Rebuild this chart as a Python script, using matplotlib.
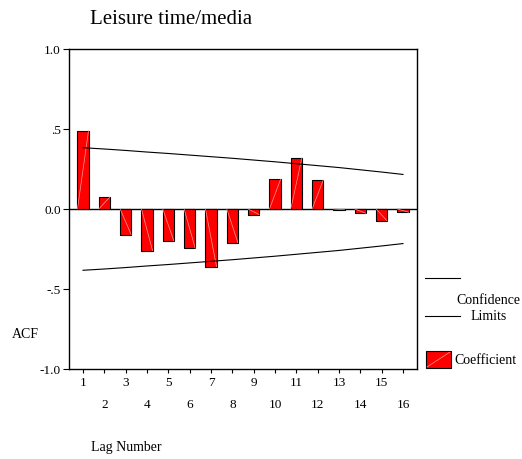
import numpy as np
import matplotlib
matplotlib.use("Agg")
import matplotlib.pyplot as plt
from matplotlib.lines import Line2D
from matplotlib.patches import Rectangle

# === Data ===
lags = list(range(1, 17))
acf = [0.49, 0.075, -0.16, -0.26, -0.20, -0.245, -0.36, -0.21,
       -0.035, 0.185, 0.32, 0.18, -0.005, -0.027, -0.075, -0.02]
upper_limit = [0.383, 0.375, 0.366, 0.356, 0.347, 0.337, 0.327, 0.317,
               0.306, 0.295, 0.283, 0.271, 0.259, 0.245, 0.231, 0.216]
lower_limit = [-v for v in upper_limit]
ytick_vals = [-1.0, -0.5, 0.0, 0.5, 1.0]
ytick_labels = ["-1.0", "-.5", "0.0", ".5", "1.0"]

plt.rcParams['font.family'] = ['Liberation Serif', 'DejaVu Serif']

fig = plt.figure(figsize=(5.22, 4.59), dpi=100)
W, H = 522.0, 459.0
ax = fig.add_axes([69 / W, 1 - 369 / H, 348 / W, 320 / H])

bw = 0.52
bars = ax.bar(lags, acf, width=bw, color='#ff0000', edgecolor='black', linewidth=0.8, zorder=3)
# faint diagonal streak inside each bar, like the SPSS fill
for b in bars:
    x0 = b.get_x()
    y0 = b.get_y()
    ax.plot([x0, x0 + b.get_width()], [y0, y0 + b.get_height()],
            color='#ff9a9a', lw=0.5, zorder=3.5)

ax.plot(lags, upper_limit, color='black', lw=0.8, zorder=4)
ax.plot(lags, lower_limit, color='black', lw=0.8, zorder=4)
ax.axhline(0, color='black', lw=1.0, zorder=2)

ax.set_xlim(0.344, 16.656)
ax.set_ylim(-1.0, 1.0)

odd = [l for l in lags if l % 2 == 1]
even = [l for l in lags if l % 2 == 0]
ax.set_xticks(odd)
ax.set_xticklabels([str(l) for l in odd])
ax.set_xticks(even, minor=True)
ax.set_xticklabels([str(l) for l in even], minor=True)
ax.tick_params(axis='x', which='major', length=3, width=0.8, pad=2.5, labelsize=9.5)
ax.tick_params(axis='x', which='minor', length=3, width=0.8, pad=18.5, labelsize=9.5)

ax.set_yticks(ytick_vals)
ax.set_yticklabels(ytick_labels)
ax.tick_params(axis='y', length=4, width=0.8, pad=2, labelsize=9.5)

for s in ax.spines.values():
    s.set_linewidth(1.0)

fig.text(171 / W, 1 - 19 / H, "Leisure time/media", ha='center', va='center', fontsize=15)
fig.text(25 / W, 1 - 335 / H, "ACF", ha='center', va='center', fontsize=10)
fig.text(126 / W, 1 - 447 / H, "Lag Number", ha='center', va='center', fontsize=10)

# legend, drawn outside the axes
fig.add_artist(Line2D([425 / W, 460 / W], [1 - 278 / H, 1 - 278 / H], color='black', lw=0.8))
fig.add_artist(Line2D([425 / W, 460 / W], [1 - 316 / H, 1 - 316 / H], color='black', lw=0.8))
fig.text(488.5 / W, 1 - 300 / H, "Confidence", ha='center', va='center', fontsize=10)
fig.text(489 / W, 1 - 317 / H, "Limits", ha='center', va='center', fontsize=10)
fig.add_artist(Rectangle((426 / W, 1 - 368 / H), 25 / W, 17 / H, facecolor='#ff0000',
                         edgecolor='black', linewidth=0.8, transform=fig.transFigure))
fig.add_artist(Line2D([427 / W, 450 / W], [1 - 367 / H, 1 - 352 / H], color='#ff9a9a', lw=0.5))
fig.text(454 / W, 1 - 360 / H, "Coefficient", ha='left', va='center', fontsize=10)

fig.savefig("out.png", dpi=100)
